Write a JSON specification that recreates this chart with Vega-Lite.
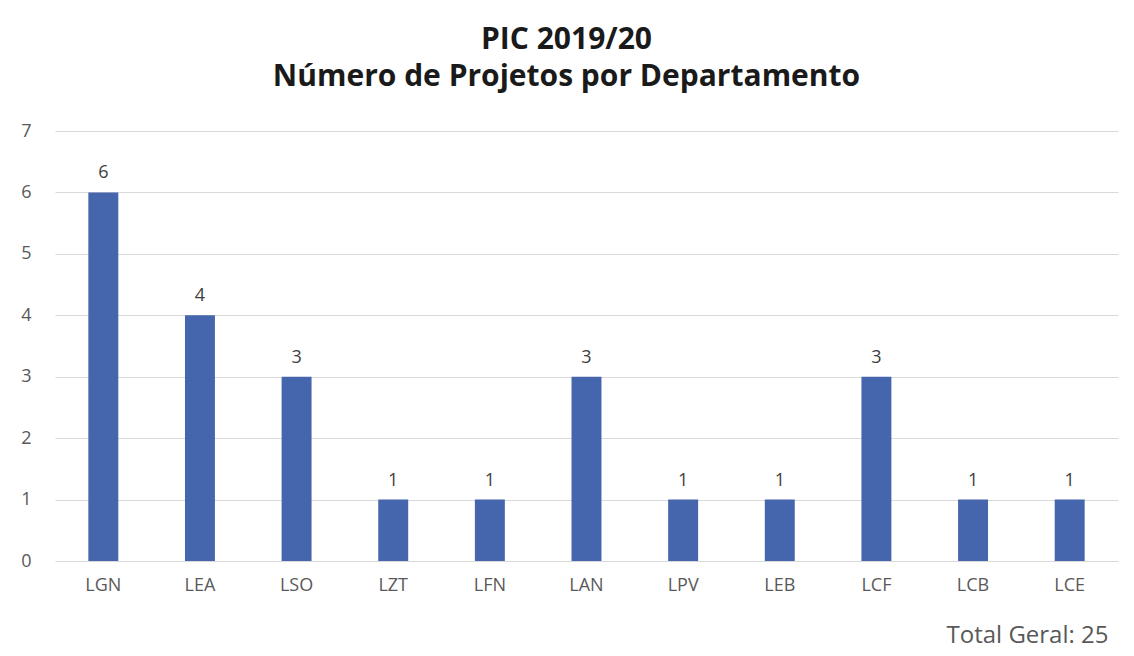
{
  "$schema": "https://vega.github.io/schema/vega-lite/v6.json",
  "autosize": {"type": "none"},
  "width": 1063,
  "height": 430,
  "padding": {"left": 55, "top": 131, "right": 16, "bottom": 95},
  "background": "white",
  "title": {
    "text": ["PIC 2019/20", "Número de Projetos por Departamento"],
    "anchor": "middle",
    "dx": -20,
    "offset": 30,
    "font": "Open Sans",
    "fontSize": 30,
    "fontWeight": "bold",
    "color": "#1a1a1a",
    "lineHeight": 37
  },
  "data": {
    "values": [
      {"dept": "LGN", "n": 6},
      {"dept": "LEA", "n": 4},
      {"dept": "LSO", "n": 3},
      {"dept": "LZT", "n": 1},
      {"dept": "LFN", "n": 1},
      {"dept": "LAN", "n": 3},
      {"dept": "LPV", "n": 1},
      {"dept": "LEB", "n": 1},
      {"dept": "LCF", "n": 3},
      {"dept": "LCB", "n": 1},
      {"dept": "LCE", "n": 1}
    ]
  },
  "encoding": {
    "x": {
      "field": "dept",
      "type": "nominal",
      "sort": null,
      "scale": {"paddingInner": 0.69, "paddingOuter": 0.345},
      "axis": {
        "title": "Total Geral: 25",
        "titleAnchor": "end",
        "titleAlign": "right",
        "titleFont": "Open Sans",
        "titleFontSize": 24,
        "titleFontWeight": "normal",
        "titleColor": "#595959",
        "titlePadding": 29,
        "titleX": 1053,
        "labelAngle": 0,
        "labelFont": "Open Sans",
        "labelFontSize": 18,
        "labelColor": "#595959",
        "labelPadding": 15,
        "ticks": false,
        "domain": false,
        "grid": false
      }
    },
    "y": {
      "field": "n",
      "type": "quantitative",
      "scale": {"domain": [0, 7], "nice": false},
      "axis": {
        "title": null,
        "values": [0, 1, 2, 3, 4, 5, 6, 7],
        "labelFont": "Open Sans",
        "labelFontSize": 18,
        "labelColor": "#595959",
        "labelPadding": 24,
        "ticks": false,
        "domain": false,
        "gridColor": "#d9d9d9",
        "gridWidth": 1
      }
    }
  },
  "layer": [
    {"mark": {"type": "bar", "color": "#4565AD"}},
    {
      "mark": {"type": "text", "dy": -19, "font": "Open Sans", "fontSize": 18, "color": "#404040"},
      "encoding": {"text": {"field": "n", "type": "quantitative"}}
    }
  ],
  "config": {"view": {"stroke": null}}
}
